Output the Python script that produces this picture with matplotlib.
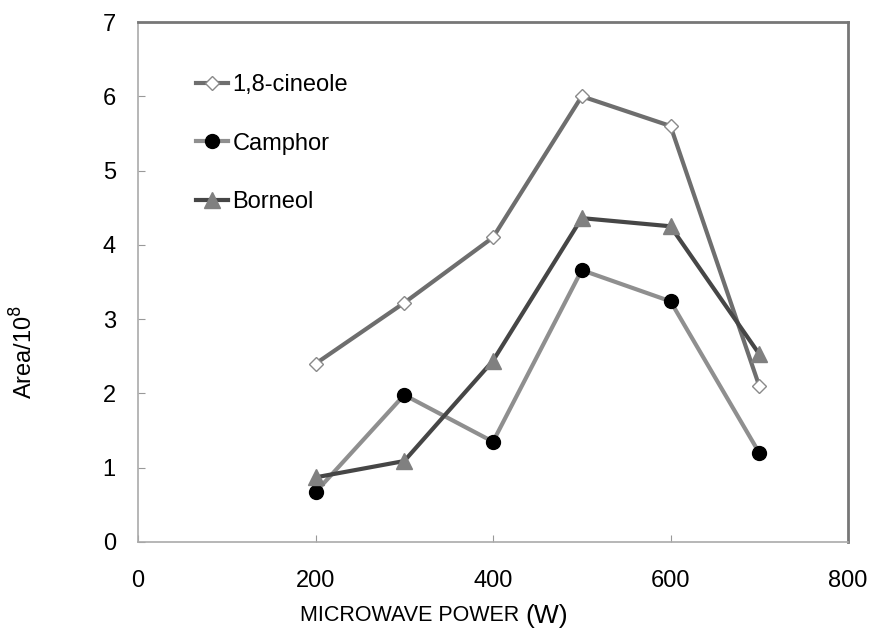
import matplotlib
matplotlib.use("Agg")
import matplotlib.pyplot as plt
import numpy as np

plt.rcParams['font.family'] = ['Liberation Sans', 'DejaVu Sans']

power = [200, 300, 400, 500, 600, 700]
cineole = [2.40, 3.22, 4.10, 6.00, 5.60, 2.10]
camphor = [0.67, 1.98, 1.35, 3.66, 3.24, 1.20]
borneol = [0.87, 1.09, 2.44, 4.36, 4.25, 2.53]

fig = plt.figure(figsize=(8.69, 6.3), dpi=100)
ax = fig.add_axes([138/869, 1 - 542/630, 710/869, 520/630])

ax.plot(power, cineole, color='#6e6e6e', linewidth=3, marker='D', markersize=7,
        markerfacecolor='white', markeredgecolor='#8a8a8a', markeredgewidth=1, label='1,8-cineole')
ax.plot(power, camphor, color='#8f8f8f', linewidth=3, marker='o', markersize=10,
        markerfacecolor='black', markeredgecolor='black', label='Camphor')
ax.plot(power, borneol, color='#464646', linewidth=3, marker='^', markersize=11,
        markerfacecolor='#808080', markeredgecolor='#808080', label='Borneol')

ax.set_xlim(0, 800)
ax.set_ylim(0, 7)
ax.set_xticks(np.arange(0, 801, 200))
ax.set_yticks(np.arange(0, 8, 1))
ax.tick_params(direction='in', length=5, color='#999999', labelsize=17)
ax.tick_params(axis='x', pad=20)
ax.tick_params(axis='y', pad=16)

for side in ['left', 'bottom']:
    ax.spines[side].set_color('#aaaaaa')
    ax.spines[side].set_linewidth(1.2)
for side in ['top', 'right']:
    ax.spines[side].set_color('#777777')
    ax.spines[side].set_linewidth(2)

ax.set_ylabel('Area/10$^8$', fontsize=17)
ax.yaxis.set_label_coords(-0.142, 0.365)

ax.text(0.545, -0.142, 'MICROWAVE POWER ', transform=ax.transAxes, ha='right', va='center', fontsize=15.5)
ax.text(0.545, -0.142, '(W)', transform=ax.transAxes, ha='left', va='center', fontsize=19)

ax.legend(loc='upper left', bbox_to_anchor=(0.082, 0.90), frameon=False, fontsize=17,
          handlelength=1.36, handletextpad=0.17, labelspacing=1.55, borderaxespad=0,
          borderpad=0)

fig.savefig('out.png', dpi=100)
